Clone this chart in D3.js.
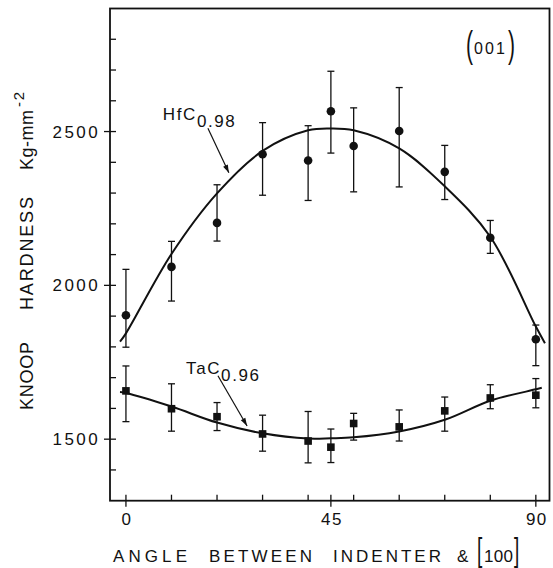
<!DOCTYPE html>
<html>
<head>
<meta charset="utf-8">
<script src="https://cdn.jsdelivr.net/npm/d3@7"></script>
<style>
  body { margin: 0; background: #fff; }
  svg text { font-family: "Liberation Sans", Arial, sans-serif; fill: #111; }
</style>
</head>
<body>
<div id="chart"></div>
<script>
// angles (degrees) where hardness was measured
const angles = [0, 10, 20, 30, 40, 45, 50, 60, 70, 80, 90]

// HfC0.98 : mean, upper and lower error-bar ends
const hfcMean = [1903, 2060, 2203, 2426, 2406, 2566, 2453, 2502, 2369, 2155, 1825]
const hfcHigh = [2052, 2143, 2327, 2529, 2519, 2696, 2577, 2643, 2455, 2211, 1871]
const hfcLow  = [1799, 1949, 2144, 2293, 2276, 2430, 2304, 2320, 2279, 2104, 1739]

// TaC0.96
const tacMean = [1657, 1599, 1573, 1517, 1494, 1474, 1551, 1540, 1592, 1634, 1643]
const tacHigh = [1738, 1680, 1619, 1578, 1590, 1533, 1584, 1595, 1637, 1677, 1697]
const tacLow  = [1557, 1526, 1528, 1461, 1423, 1424, 1497, 1494, 1526, 1599, 1602]

// fitted curves as drawn
const hfcFitAngle = [-1.3, 0, 10, 20, 30, 40, 45, 50, 60, 70, 80, 90, 92]
const hfcFitValue = [1817, 1844, 2102, 2299, 2437, 2504, 2510, 2504, 2445, 2322, 2158, 1866, 1812]
const tacFitAngle = [-1.3, 0, 10, 20, 30, 40, 45, 50, 60, 70, 80, 90, 91.3]
const tacFitValue = [1653, 1650, 1606, 1554, 1519, 1502, 1503, 1506, 1525, 1563, 1625, 1662, 1667]

// axis ticks
const xLabelTicks = [0, 45, 90]
const xMinorTicks = [10, 20, 30, 40, 50, 60, 70, 80]
const yLabelTicks = [1500, 2000, 2500]
const yMinorTicks = [1400, 1600, 1700, 1800, 1900, 2100, 2200, 2300, 2400, 2600, 2700, 2800]

const width = 553, height = 568

const x = d3.scaleLinear().domain([-3.5, 93]).range([110, 549.5])
const y = d3.scaleLinear().domain([1300, 2900]).range([500.7, 8.5])

const svg = d3.select('#chart').append('svg')
  .attr('width', width)
  .attr('height', height)

const ink = '#111'

// frame
svg.append('rect')
  .attr('x', x.range()[0]).attr('y', y.range()[1])
  .attr('width', x.range()[1] - x.range()[0])
  .attr('height', y.range()[0] - y.range()[1])
  .attr('fill', 'none').attr('stroke', ink).attr('stroke-width', 1.8)

// x ticks
const xt = svg.append('g').attr('stroke', ink).attr('stroke-width', 1.3)
xMinorTicks.concat(xLabelTicks).forEach(function(t) {
  const big = xLabelTicks.indexOf(t) >= 0
  xt.append('line')
    .attr('x1', x(t)).attr('x2', x(t))
    .attr('y1', y.range()[0] - 6).attr('y2', y.range()[0] + (big ? 6 : 0))
})
svg.append('g').selectAll('text').data(xLabelTicks).enter().append('text')
  .attr('x', d => x(d) + 1).attr('y', 525)
  .attr('text-anchor', 'middle')
  .attr('font-size', 17).attr('letter-spacing', 1.5)
  .text(d => d)

// y ticks
const yt = svg.append('g').attr('stroke', ink).attr('stroke-width', 1.3)
yMinorTicks.forEach(function(t) {
  yt.append('line')
    .attr('x1', x.range()[0]).attr('x2', x.range()[0] + 6)
    .attr('y1', y(t)).attr('y2', y(t))
})
yLabelTicks.forEach(function(t) {
  yt.append('line')
    .attr('x1', x.range()[0] - 6).attr('x2', x.range()[0] + 6)
    .attr('y1', y(t)).attr('y2', y(t))
})
svg.append('g').selectAll('text').data(yLabelTicks).enter().append('text')
  .attr('x', x.range()[0] - 10).attr('y', d => y(d) + 6)
  .attr('text-anchor', 'end')
  .attr('font-size', 17).attr('letter-spacing', 2.4)
  .text(d => d)

// fitted curves
const line = d3.line().curve(d3.curveCatmullRom.alpha(0.5))
  .x(d => x(d[0])).y(d => y(d[1]))

svg.append('path')
  .attr('d', line(d3.zip(hfcFitAngle, hfcFitValue)))
  .attr('fill', 'none').attr('stroke', ink).attr('stroke-width', 2)
svg.append('path')
  .attr('d', line(d3.zip(tacFitAngle, tacFitValue)))
  .attr('fill', 'none').attr('stroke', ink).attr('stroke-width', 2)

// error bars
function errorBars(high, low) {
  const g = svg.append('g').attr('stroke', ink).attr('stroke-width', 1.3)
  angles.forEach(function(a, i) {
    g.append('line').attr('x1', x(a)).attr('x2', x(a)).attr('y1', y(high[i])).attr('y2', y(low[i]))
    g.append('line').attr('x1', x(a) - 3.5).attr('x2', x(a) + 3.5).attr('y1', y(high[i])).attr('y2', y(high[i]))
    g.append('line').attr('x1', x(a) - 3.5).attr('x2', x(a) + 3.5).attr('y1', y(low[i])).attr('y2', y(low[i]))
  })
}
errorBars(hfcHigh, hfcLow)
errorBars(tacHigh, tacLow)

// markers
svg.append('g').selectAll('circle').data(d3.zip(angles, hfcMean)).enter().append('circle')
  .attr('cx', d => x(d[0])).attr('cy', d => y(d[1]))
  .attr('r', 4.3).attr('fill', ink)
svg.append('g').selectAll('rect').data(d3.zip(angles, tacMean)).enter().append('rect')
  .attr('x', d => x(d[0]) - 3.8).attr('y', d => y(d[1]) - 3.8)
  .attr('width', 7.6).attr('height', 7.6).attr('fill', ink)

// labels with arrows
function arrow(a0, v0, a1, v1) {
  const x0 = x(a0), y0 = y(v0), x1 = x(a1), y1 = y(v1)
  const ang = Math.atan2(y1 - y0, x1 - x0)
  const L = 8, W = 2.6
  svg.append('line')
    .attr('x1', x0).attr('y1', y0).attr('x2', x1).attr('y2', y1)
    .attr('stroke', ink).attr('stroke-width', 1.2)
  const bx = x1 - L * Math.cos(ang), by = y1 - L * Math.sin(ang)
  svg.append('path')
    .attr('d', 'M' + x1 + ',' + y1 +
      'L' + (bx + W * Math.sin(ang)) + ',' + (by - W * Math.cos(ang)) +
      'L' + (bx - W * Math.sin(ang)) + ',' + (by + W * Math.cos(ang)) + 'Z')
    .attr('fill', ink)
}

const hfcLabel = svg.append('text')
  .attr('x', x(8.1)).attr('y', y(2537)).attr('font-size', 17).attr('letter-spacing', 1.6)
hfcLabel.append('tspan').text('HfC')
hfcLabel.append('tspan').attr('dy', 7).text('0.98')
arrow(18.0, 2511, 22.6, 2366)

const tacLabel = svg.append('text')
  .attr('x', x(13.2)).attr('y', y(1713)).attr('font-size', 17).attr('letter-spacing', 1.6)
tacLabel.append('tspan').text('TaC')
tacLabel.append('tspan').attr('dy', 7).text('0.96')
arrow(20.2, 1706, 26.6, 1543)

// helpers for the spaced-out caption words and the tall thin brackets
function word(txt, px, py, size, len) {
  return svg.append('text')
    .attr('x', px).attr('y', py)
    .attr('font-size', size)
    .attr('textLength', len).attr('lengthAdjust', 'spacing')
    .text(txt)
}
function stretched(txt, px, py, size, sy) {
  svg.append('text')
    .attr('transform', 'translate(' + px + ',' + py + ') scale(1,' + sy + ')')
    .attr('font-size', size)
    .text(txt)
}

// (001)
stretched('(', 466, 57, 21, 1.75)
word('001', 474, 54, 16, 31)
stretched(')', 508, 57, 21, 1.75)

// x title
word('ANGLE', 113, 562, 17, 74)
word('BETWEEN', 209, 562, 17, 103)
word('INDENTER', 333, 562, 17, 108)
word('&', 457, 562, 17, 11)
stretched('[', 477, 561, 19, 1.7)
word('100', 484, 562, 17, 29)
stretched(']', 514, 561, 19, 1.7)

// y title (rotated)
const yTitle = svg.append('g').attr('transform', 'translate(33,0) rotate(-90)')
function yword(txt, top, bottom, size, dx, len) {
  yTitle.append('text')
    .attr('x', -bottom).attr('y', dx || 0)
    .attr('font-size', size)
    .attr('textLength', len || (bottom - top)).attr('lengthAdjust', 'spacing')
    .text(txt)
}
yword('KNOOP', 342, 410, 18)
yword('HARDNESS', 197, 310, 18)
yword('Kg-mm', 110, 170, 18)
yword('-2', 88, 107, 15, -9, 15)
</script>
</body>
</html>
